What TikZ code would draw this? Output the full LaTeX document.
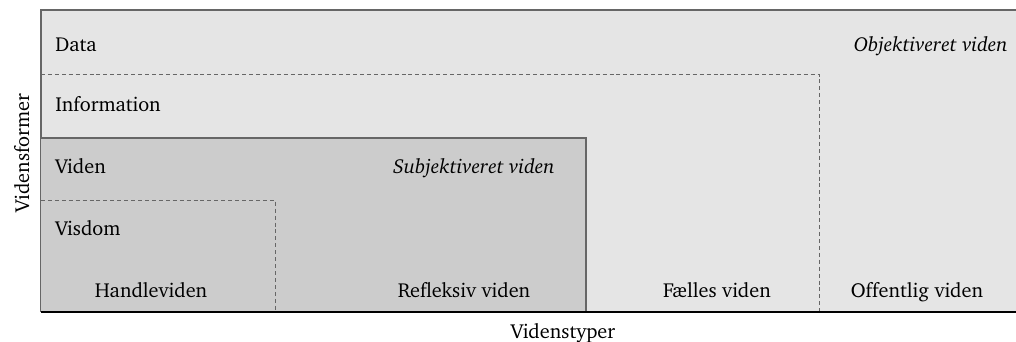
\documentclass[tikz,border=0pt]{standalone}
\usepackage[T1]{fontenc}
\usepackage{charter}
\usetikzlibrary{positioning}

\begin{document}
\begin{tikzpicture}[x=0.75pt, y=-0.75pt,
        label text/.style={font=\fontsize{15.2}{17}\selectfont, inner sep=0pt},
        divider/.style={draw=black!60, dash pattern=on 3pt off 2.2pt, line width=0.6pt},
        frame/.style={draw=black!60, line width=0.8pt}]
    \useasboundingbox (0,0) rectangle (1016,342);

    % Outer field: objektiveret viden
    \fill[black!10] (41,10) rectangle (1016,312);
    \draw[frame] (1016,10) -- (41,10) -- (41,312);

    % Inner field: subjektiveret viden
    \fill[black!20] (41,138) rectangle (586,312);
    \draw[frame] (41,138) -- (586,138) -- (586,312);

    % Dashed boundaries
    \draw[divider] (41,74) -- (819,74) -- (819,312);
    \draw[divider] (41,200) -- (275,200) -- (275,312);

    % Base line
    \draw[black, line width=0.9pt] (41,312) -- (1016,312);

    % Vidensformer
    \node (data)   [label text, anchor=base west] at (55,52)  {Data};
    \node (info)   [label text, anchor=base west] at (55,112) {Information};
    \node (viden)  [label text, anchor=base west] at (55,173) {Viden};
    \node (visdom) [label text, anchor=base west] at (55,235) {Visdom};

    % Vidensfelter
    \node (objektiv)  [label text, anchor=base east] at (1008,52) {\itshape Objektiveret viden};
    \node (subjektiv) [label text, anchor=base east] at (555,173) {\itshape Subjektiveret viden};

    % Videnstyper
    \node (handle)    [label text, anchor=base] at (151,297) {Handleviden};
    \node (refleksiv) [label text, anchor=base] at (464,297) {Refleksiv viden};
    \node (faelles)   [label text, anchor=base] at (717,297) {Fælles viden};
    \node (offentlig) [label text, anchor=base] at (917,297) {Offentlig viden};

    % Axis titles
    \node (former) [label text, rotate=90, anchor=base] at (29,153) {Vidensformer};
    \node (typer)  [label text, anchor=base] at (563,338) {Videnstyper};
\end{tikzpicture}
\end{document}
